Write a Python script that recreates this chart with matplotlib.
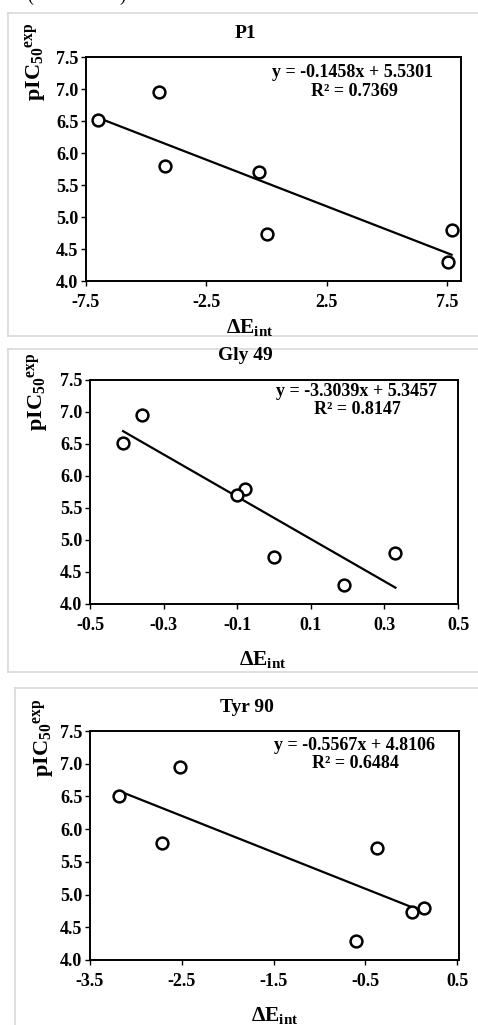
import matplotlib
matplotlib.use("Agg")
import matplotlib.pyplot as plt
import numpy as np
from matplotlib.lines import Line2D

plt.rcParams['font.family'] = ['Liberation Serif', 'DejaVu Serif']
plt.rcParams['font.weight'] = 'bold'
plt.rcParams['mathtext.fontset'] = 'custom'
plt.rcParams['mathtext.rm'] = 'Liberation Serif:bold'
plt.rcParams['mathtext.it'] = 'Liberation Serif:bold'
plt.rcParams['mathtext.bf'] = 'Liberation Serif:bold'

# Data
pic50 = [6.51, 6.95, 5.79, 5.71, 4.73, 4.29, 4.79]
p1_x = [-7.02, -4.45, -4.22, -0.30, 0.02, 7.51, 7.68]
gly49_x = [-0.41, -0.36, -0.078, -0.10, 0.00, 0.19, 0.33]
tyr90_x = [-3.18, -2.52, -2.72, -0.37, 0.01, -0.60, 0.14]

titles = ["P1", "Gly 49", "Tyr 90"]
slopes = [-0.1458, -3.3039, -0.5567]
intercepts = [5.5301, 5.3457, 4.8106]
r2 = [0.7369, 0.8147, 0.6484]

p1_ticks = [-7.5, -2.5, 2.5, 7.5]
gly_ticks = [-0.5, -0.3, -0.1, 0.1, 0.3, 0.5]
tyr_ticks = [-3.5, -2.5, -1.5, -0.5, 0.5]
y_ticks = [4.0, 4.5, 5.0, 5.5, 6.0, 6.5, 7.0, 7.5]

W, H = 478, 1025
fig = plt.figure(figsize=(W / 100, H / 100), dpi=100)


def fx(px):
    return px / W


def fy(py):
    return 1 - py / H


# light gray panel frames
frame_col = '#d9d9d9'
def hline(y, x0, x1):
    fig.add_artist(Line2D([fx(x0), fx(x1)], [fy(y), fy(y)], color=frame_col, lw=1.2))
def vline(x, y0, y1):
    fig.add_artist(Line2D([fx(x), fx(x)], [fy(y0), fy(y1)], color=frame_col, lw=1.2))

hline(12.5, 8, 478); hline(336, 8, 478); vline(8, 12.5, 336)
hline(349, 8, 478); hline(672, 8, 478); vline(8, 349, 672)
hline(688, 15, 478); vline(15, 688, 1025)

# clipped parentheses at top (as in the reference)
fig.text(fx(30), fy(1.0), "(", fontsize=13, ha='center', va='baseline', fontweight='normal')
fig.text(fx(122), fy(1.0), ")", fontsize=13, ha='center', va='baseline', fontweight='normal')

panels = [
    dict(x=p1_x, box=(86, 461, 57, 281), xlim=(-7.5, 8.07), ticks=p1_ticks,
         title=(245, 33), ylab=(35, 62), xlab=(250, 327), eq=(353, 72), r2=(354, 91)),
    dict(x=gly49_x, box=(90, 458, 380, 604), xlim=(-0.5, 0.5), ticks=gly_ticks,
         title=(245, 355), ylab=(38, 392), xlab=(263, 660), eq=(357, 392), r2=(357, 410)),
    dict(x=tyr90_x, box=(90, 459, 731, 960), xlim=(-3.5, 0.52), ticks=tyr_ticks,
         title=(247, 707), ylab=(43, 738), xlab=(275, 1015), eq=(355, 745), r2=(355, 764)),
]

for i, p in enumerate(panels):
    l, r, t, b = p['box']
    ax = fig.add_axes([fx(l), fy(b), (r - l) / W, (b - t) / H])
    xs = np.array(p['x'])
    ys = np.array(pic50)
    xl = np.array([xs.min(), xs.max()])
    ax.plot(xl, slopes[i] * xl + intercepts[i], color='black', lw=1.6, zorder=2)
    ax.plot(xs, ys, linestyle='none', marker='o', markersize=8.5, markerfacecolor='white',
            markeredgecolor='black', markeredgewidth=1.8, zorder=3)
    ax.set_xlim(*p['xlim'])
    ax.set_ylim(4.0, 7.5)
    ax.set_xticks(p['ticks'])
    ax.set_xticklabels(["{:.1f}".format(v) for v in p['ticks']])
    ax.set_yticks(y_ticks)
    ax.set_yticklabels(["{:.1f}".format(v) for v in y_ticks])
    ax.tick_params(direction='out', length=3.5, width=1.0, labelsize=13, pad=2)
    for lab in ax.get_xticklabels() + ax.get_yticklabels():
        lab.set_fontweight('bold')
    ax.xaxis.set_tick_params(pad=6)
    for s in ax.spines.values():
        s.set_linewidth(1.4)
        s.set_color('black')
    fig.text(fx(p['title'][0]), fy(p['title'][1]), titles[i], fontsize=14,
             fontweight='bold', ha='center', va='center')
    fig.text(fx(p['ylab'][0]), fy(p['ylab'][1]), r'pIC$_{50}$$^{exp}$', fontsize=16,
             fontweight='bold', rotation=90, ha='center', va='center')
    fig.text(fx(p['xlab'][0]), fy(p['xlab'][1]), r'$\Delta$E$_{int}$', fontsize=15.5,
             fontweight='bold', ha='center', va='center')
    sign = '+' if intercepts[i] >= 0 else '-'
    fig.text(fx(p['eq'][0]), fy(p['eq'][1]),
             "y = {:.4f}x {} {:.4f}".format(slopes[i], sign, abs(intercepts[i])),
             fontsize=13, fontweight='bold', ha='center', va='center')
    fig.text(fx(p['r2'][0]), fy(p['r2'][1]), "R² = {:.4f}".format(r2[i]),
             fontsize=13, fontweight='bold', ha='center', va='center')

fig.savefig("out.png", dpi=100)
